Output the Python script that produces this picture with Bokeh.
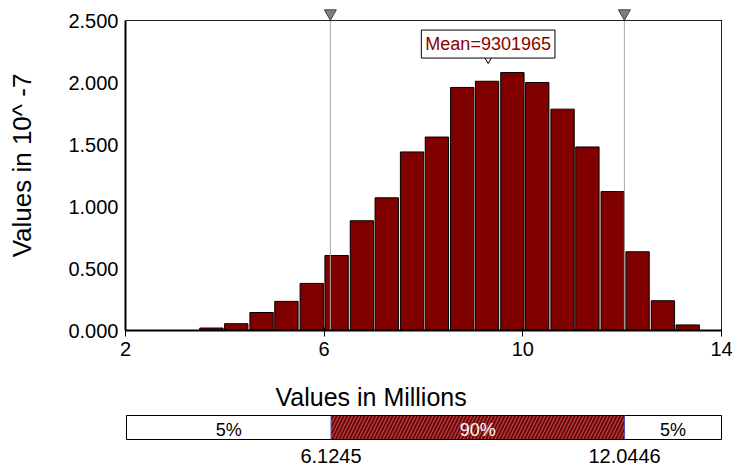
from bokeh.plotting import figure
from bokeh.layouts import column
from bokeh.models import Range1d, FixedTicker, NumeralTickFormatter, Span, Label, ColumnDataSource
from bokeh.core.properties import value
from bokeh.embed import file_html
from bokeh.resources import INLINE

# ---------------- data ----------------
bin_centers = [3.73, 4.23, 4.74, 5.24, 5.75, 6.25, 6.76, 7.26, 7.77, 8.27,
               8.78, 9.28, 9.79, 10.29, 10.80, 11.30, 11.81, 12.31, 12.82, 13.32]
densities = [0.020, 0.055, 0.145, 0.235, 0.380, 0.605, 0.885, 1.070, 1.440, 1.560,
             1.960, 2.010, 2.080, 2.000, 1.785, 1.480, 1.120, 0.635, 0.240, 0.045]
x_ticks = [2, 6, 10, 14]
y_ticks = [0.0, 0.5, 1.0, 1.5, 2.0, 2.5]
p5 = 6.1245
p95 = 12.0446
mean_value = 9.301965
mean_text = "Mean=9301965"
pct_labels = ["5%", "90%", "5%"]

FONT = "Liberation Sans"
BAR = "#800000"
X0, X1 = 2, 14
Y0, Y1 = 0, 2.5
W = 734
LEFT = 125
PPX = 596 / (X1 - X0)          # pixels per x unit
PPY = 124.0                    # pixels per y unit
FRAME_H = 330
TOP_EXTRA = FRAME_H / PPY - Y1  # room above 2.5 for the percentile markers

# ---------------- histogram ----------------
p = figure(width=W, height=366, x_range=Range1d(X0, X1 + 1 / PPX),
           y_range=Range1d(Y0, Y1 + TOP_EXTRA),
           output_backend="svg", toolbar_location=None,
           min_border_left=LEFT, min_border_right=W - LEFT - 597,
           min_border_top=0, min_border_bottom=366 - FRAME_H)
p.grid.visible = False
p.outline_line_color = None

src = ColumnDataSource(dict(x=bin_centers, top=densities))
p.vbar(x="x", top="top", bottom=0, width=0.47, source=src,
       fill_color=BAR, line_color="black", line_width=1)

# frame lines (top and right)
p.add_layout(Span(location=Y1, dimension="width", line_color="#222222", line_width=1))
p.segment(x0=[X1], y0=[Y0], x1=[X1], y1=[Y1], line_color="#222222", line_width=1)

# percentile lines + markers
p.segment(x0=[p5, p95], y0=[Y0, Y0], x1=[p5, p95], y1=[Y1, Y1], line_color="#a8a8a8", line_width=1)
p.scatter(x=[p5, p95], y=[Y1 + 7.2 / PPY] * 2, marker="inverted_triangle", size=12,
          fill_color="#808080", line_color="#404040", line_width=1)

# mean marker + label
p.scatter(x=[mean_value], y=[2.195], marker="inverted_triangle", size=9,
          fill_color="white", line_color="black", line_width=1)
p.add_layout(Label(x=mean_value, y=2.31, text=mean_text, text_align="center",
                   text_baseline="middle", text_font=FONT, text_font_size="18px",
                   text_color="#8b0000", background_fill_color="white",
                   border_line_color="black", border_line_width=1, padding=4))

xa = p.xaxis[0]
xa.ticker = FixedTicker(ticks=x_ticks)
xa.bounds = (X0, X1)
xa.axis_line_width = 2
xa.major_tick_out = 6
xa.major_tick_in = 3
xa.minor_tick_out = 0
xa.minor_tick_in = 0
xa.major_label_standoff = 5
xa.major_label_text_font = FONT
xa.major_label_text_font_size = "20px"
xa.major_label_text_color = "black"

ya = p.yaxis[0]
ya.ticker = FixedTicker(ticks=y_ticks)
ya.bounds = (Y0, Y1)
ya.formatter = NumeralTickFormatter(format="0.000")
ya.axis_line_width = 2
ya.major_tick_out = 0
ya.major_tick_in = 0
ya.minor_tick_out = 0
ya.minor_tick_in = 0
ya.major_label_standoff = 7
ya.major_label_text_font = FONT
ya.major_label_text_font_size = "20px"
ya.major_label_text_color = "black"
ya.axis_label = "Values in 10^ -7"
ya.axis_label_text_font = FONT
ya.axis_label_text_font_size = "26px"
ya.axis_label_text_font_style = "normal"
ya.axis_label_text_color = "black"
ya.axis_label_standoff = 28

# ---------------- bottom: x title + percentile bar ----------------
H2 = 468 - 366
pad = 1 / PPX
f2 = figure(width=W, height=H2, x_range=Range1d(X0 - pad, X1 + pad), y_range=Range1d(0, H2),
            output_backend="svg", toolbar_location=None,
            min_border_left=LEFT - 1, min_border_right=W - LEFT - 596 - 1,
            min_border_top=0, min_border_bottom=0)
f2.axis.visible = False
f2.grid.visible = False
f2.outline_line_color = None

title_x = X0 + (370 - LEFT) / PPX
f2.text(x=[title_x], y=[72], text=["Values in Millions"], text_align="center",
        text_baseline="alphabetic", text_font=value(FONT), text_font_size="25px", text_color="black")

bb, bt = 29, 53
f2.quad(left=[X0, p95], right=[p5, X1], bottom=bb, top=bt, fill_color="white", line_color=None)
f2.quad(left=[p5], right=[p95], bottom=bb, top=bt, fill_color=BAR, line_color=None,
        hatch_pattern="/", hatch_color="#a89494", hatch_scale=7, hatch_weight=0.7)
f2.quad(left=[X0], right=[X1], bottom=bb, top=bt, fill_color=None, line_color="black", line_width=1)
f2.segment(x0=[p5, p95], y0=[bb, bb], x1=[p5, p95], y1=[bt, bt], line_color="#5050c0", line_width=1)

mids = [(X0 + p5) / 2, (p5 + p95) / 2, (p95 + X1) / 2]
f2.text(x=mids, y=[39, 39, 39], text=pct_labels, text_align="center", text_baseline="alphabetic",
        text_font=value(FONT), text_font_size="18px", text_color=["black", "white", "black"])
f2.text(x=[p5, p95], y=[13, 13], text=[f"{p5:.4f}", f"{p95:.4f}"], text_align="center",
        text_baseline="alphabetic", text_font=value(FONT), text_font_size="20px", text_color="black")

layout = column(p, f2, spacing=0)
open("out.html", "w").write(file_html(layout, INLINE))
